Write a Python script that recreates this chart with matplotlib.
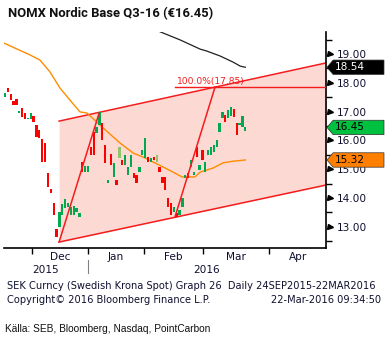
import numpy as np
import matplotlib.pyplot as plt
import matplotlib.transforms as mtransforms
from matplotlib.patches import Polygon

# daily bars, index 0 = mid Nov 2015, last = 22 Mar 2016
opens = [17.52, 17.81, 17.61, 17.38, 17.43, 16.94, 17.11, 16.94, 16.73, 16.73,
         16.85, 16.53, 16.36, 16.04, 15.90, 14.86, 14.31, 13.81, 12.91, 13.00,
         13.41, 13.64, 13.70, 13.41, 13.41, 13.53, 13.35, 15.26, 14.91, 14.91,
         15.78, 16.30, 16.25, 16.53, 16.61, 15.84, 14.51, 15.53, 14.74, 14.62,
         15.38, 15.32, 15.15, 14.80, 15.09, 14.86, 14.80, 14.91, 15.49, 15.38,
         15.44, 15.26, 15.44, 15.26, 15.09, 14.74, 14.74, 13.99, 13.81, 13.53,
         13.47, 13.41, 13.70, 14.68, 14.86, 15.09, 14.80, 15.78, 14.97, 15.67,
         14.91, 15.49, 15.49, 15.61, 15.78, 16.30, 16.77, 16.88, 16.77, 16.85,
         17.08, 16.59, 16.53, 16.48, 16.33]
closes = [17.63, 17.69, 17.40, 17.23, 17.23, 17.03, 16.80, 16.74, 16.77, 16.94,
          16.63, 16.11, 16.07, 15.26, 15.26, 14.39, 14.16, 13.41, 12.66, 13.52,
          13.79, 13.95, 13.81, 13.70, 13.72, 13.64, 13.49, 14.91, 15.11, 15.11,
          15.49, 15.49, 16.48, 16.97, 16.01, 15.20, 14.62, 15.15, 15.20, 14.45,
          15.78, 15.15, 15.49, 15.09, 15.49, 14.68, 14.51, 15.09, 15.67, 16.07,
          15.26, 15.38, 15.32, 15.49, 14.91, 14.51, 14.28, 13.70, 13.41, 13.70,
          13.35, 13.58, 13.99, 14.80, 14.68, 15.32, 14.91, 15.44, 15.15, 15.32,
          15.26, 15.67, 15.78, 15.84, 16.01, 16.59, 17.00, 16.65, 17.06, 17.17,
          16.80, 16.19, 16.61, 16.85, 16.45]
pale_bars = [40, 53]

# moving averages
ma_fast_x = [-0.4, 8.7, 12.2, 15.7, 19.2, 22.7, 26.2, 28.7, 33.2, 40.2, 44.8,
             48.3, 55.2, 58.7, 61.9, 66.4, 68.2, 72.7, 76.2, 79.9, 84.0]
ma_fast_y = [19.38, 18.97, 18.79, 18.38, 17.82, 17.40, 16.99, 16.95, 16.53, 15.91,
             15.56, 15.42, 15.08, 14.90, 14.73, 14.73, 14.90, 15.04, 15.22, 15.28, 15.32]
ma_slow_x = [50.0, 54.5, 61.2, 68.2, 70.6, 75.2, 79.7, 82.2, 84.0]
ma_slow_y = [19.95, 19.76, 19.49, 19.17, 19.10, 18.93, 18.72, 18.58, 18.54]

# trend channel and 100% projection
chan_x = [18.9, 112.2]
chan_hi = [16.67, 18.69]
chan_lo = [12.47, 14.45]
leg1_x = [18.9, 32.9]
leg1_y = [12.47, 16.95]
leg2_x = [59.4, 73.4]
leg2_y = [13.34, 17.85]
target = 17.85

month_edges = [9.4, 29.0, 48.6, 69.2, 92.3, 112.2]
month_names = ['Dec', 'Jan', 'Feb', 'Mar', 'Apr']
year_split = 29.0

last_tags = [(18.54, '18.54', 'black', 'white'),
             (16.45, '16.45', '#00c040', 'black'),
             (15.32, '15.32', '#ff8000', 'black')]

fig = plt.figure(figsize=(3.89, 3.42), dpi=100)
ax = fig.add_axes([0.0103, 0.2749, 0.8278, 0.6315])
ax.set_xlim(-0.35, 112.2)
ax.set_ylim(12.264, 19.764)

# channel
ax.fill_between(chan_x, chan_lo, chan_hi, color='#fdd9d3', lw=0, zorder=0)
ax.plot(chan_x, chan_hi, color='#f41c1c', lw=1.1, zorder=1)
ax.plot(chan_x, chan_lo, color='#f41c1c', lw=1.1, zorder=1)

# bars
x = np.arange(len(opens))
o = np.array(opens)
c = np.array(closes)
cols = ['#00a84f' if cc >= oo else '#ff0000' for oo, cc in zip(o, c)]
for i in pale_bars:
    cols[i] = '#8fc46a'
ax.bar(x, c - o, bottom=o, width=0.8, color=cols, zorder=3)

# MAs
ax.plot(ma_fast_x, ma_fast_y, color='#ff8c00', lw=1.0, zorder=2)
ax.plot(ma_slow_x, ma_slow_y, color='#202020', lw=0.9, zorder=2)

# projection legs
ax.plot(leg1_x, leg1_y, color='#f41c1c', lw=1.1, zorder=4)
ax.plot(leg2_x, leg2_y, color='#f41c1c', lw=1.1, zorder=4)
ax.plot([leg2_x[0], 112.2], [target, target], color='#f41c1c', lw=1.0, zorder=4)
ax.text(leg2_x[0] + 0.6, target + 0.05, '100.0%(17.85)', color='#f41c1c',
        fontsize=6.6, va='bottom', ha='left')

# axes styling
for s in ['left', 'top']:
    ax.spines[s].set_visible(False)
ax.spines['right'].set_linewidth(1.2)
ax.spines['bottom'].set_linewidth(1.2)

ax.yaxis.tick_right()
yt = np.arange(13, 20, 1.0)
ax.set_yticks(yt)
ax.set_yticklabels(['%.2f' % v for v in yt])
ax.set_yticks(np.arange(12.5, 20, 1.0), minor=True)
ax.tick_params(axis='y', which='major', length=0, pad=8, labelsize=7.6,
               labelcolor='#101030')
ax.tick_params(axis='y', which='minor', length=4, width=1, color='black')
tr_y = mtransforms.blended_transform_factory(ax.transAxes, ax.transData)
ax.plot([1.011] * len(yt), yt, marker='>', ms=3.6, ls='none', color='black',
        transform=tr_y, clip_on=False)

ax.set_xticks(month_edges[:-1])
ax.set_xticklabels([])
ax.tick_params(axis='x', which='major', length=4, width=1, color='black')
tr_x = mtransforms.blended_transform_factory(ax.transData, ax.transAxes)
for k, name in enumerate(month_names):
    ax.text((month_edges[k] + month_edges[k + 1]) / 2, -0.042, name, transform=tr_x,
            ha='center', va='center', fontsize=7.6, color='#101030')
ax.text((-0.35 + year_split) / 2, -0.102, '2015', transform=tr_x, ha='center',
        va='center', fontsize=7.6, color='#101030')
ax.text((year_split + 112.2) / 2, -0.102, '2016', transform=tr_x, ha='center',
        va='center', fontsize=7.6, color='#101030')
ax.plot([year_split, year_split], [-0.056, -0.118], transform=tr_x, color='#808080',
        lw=0.8, clip_on=False)

# last value tags
for val, txt, fc, tc in last_tags:
    h = 0.25
    tag = Polygon([(1.003, val), (1.022, val + h), (1.18, val + h),
                   (1.18, val - h), (1.022, val - h)], closed=True,
                  transform=tr_y, fc=fc, ec='#303030', lw=0.5, clip_on=False, zorder=6)
    ax.add_patch(tag)
    ax.text(1.028, val, txt, transform=tr_y, ha='left', va='center',
            fontsize=7.6, color=tc, zorder=7)

fig.text(0.02, 0.959, 'NOMX Nordic Base Q3-16 (\u20ac16.45)', fontsize=9.4,
         fontweight='bold', ha='left', va='center', family='Roboto',
         color='#101010')
fig.text(0.018, 0.164, 'SEK Curncy (Swedish Krona Spot) Graph 26  Daily 24SEP2015-22MAR2016',
         fontsize=7.15, ha='left', va='center', color='#101030')
fig.text(0.018, 0.123, 'Copyright\u00a9 2016 Bloomberg Finance L.P.', fontsize=7.15,
         ha='left', va='center', color='#101030')
fig.text(0.98, 0.123, '22-Mar-2016 09:34:50', fontsize=7.15, ha='right',
         va='center', color='#101030')
fig.text(0.013, 0.038, 'K\u00e4lla: SEB, Bloomberg, Nasdaq, PointCarbon', fontsize=7.3,
         ha='left', va='center', family='Liberation Sans', color='#101010')

fig.savefig('out.png', dpi=100)
